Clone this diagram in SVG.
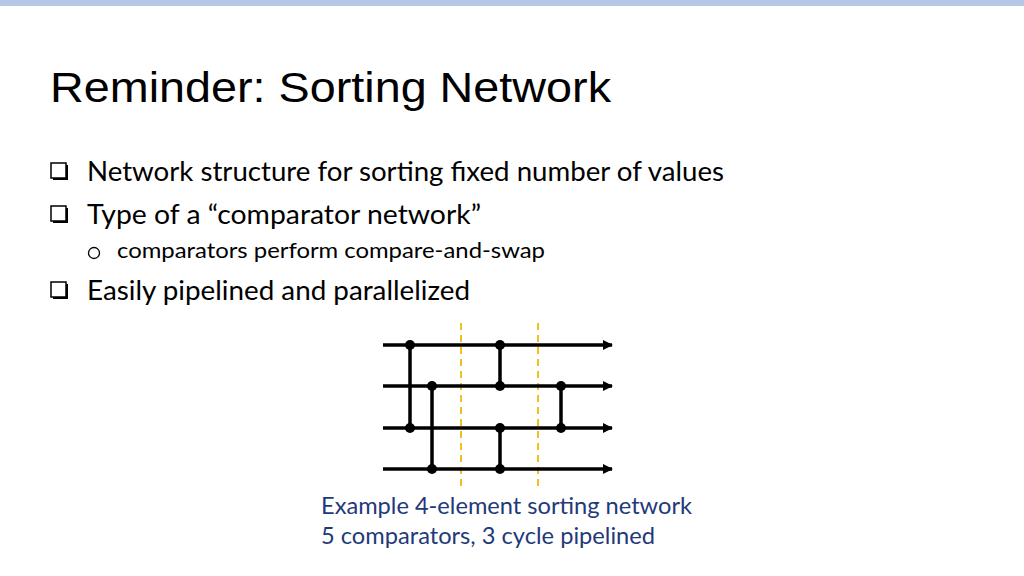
<svg xmlns="http://www.w3.org/2000/svg" width="1024" height="576" viewBox="0 0 1024 576">
<defs>
<style>
.b{font-family:Lato,"Open Sans",sans-serif;font-size:27px;fill:#000}
.s{font-family:Lato,"Open Sans",sans-serif;font-size:21px;fill:#000}
.c{font-family:Lato,"Open Sans",sans-serif;font-size:23px;fill:#1f3a7a}
.w{stroke:#000;stroke-width:3.5;fill:none}
.d{stroke:#f0c020;stroke-width:2;stroke-dasharray:7,5}
</style>
<marker id="a" markerWidth="10" markerHeight="10" refX="9" refY="5" orient="auto" markerUnits="userSpaceOnUse"><path d="M0,0 L10,5 L0,10 z" fill="#000"/></marker>
<g id="cb"><rect x="2" y="2" width="15" height="15" fill="#000"/><rect x="0" y="0" width="15" height="15" fill="#fff" stroke="#000" stroke-width="1.5"/></g>
</defs>
<rect width="1024" height="576" fill="#fff"/>
<rect width="1024" height="6" fill="#b4c7e7"/>
<text x="50" y="102" font-family="Liberation Sans,Arial,sans-serif" font-size="42" fill="#000" textLength="561" lengthAdjust="spacingAndGlyphs">Reminder: Sorting Network</text>
<use href="#cb" x="51" y="163"/>
<text class="b" x="87" y="181" textLength="637" lengthAdjust="spacingAndGlyphs">Network structure for sorting fixed number of values</text>
<use href="#cb" x="51" y="206"/>
<text class="b" x="87" y="224" textLength="394" lengthAdjust="spacingAndGlyphs">Type of a “comparator network”</text>
<circle cx="94" cy="253" r="5.5" fill="none" stroke="#000" stroke-width="1.3"/>
<text class="s" x="117" y="258" textLength="428" lengthAdjust="spacingAndGlyphs">comparators perform compare-and-swap</text>
<use href="#cb" x="51" y="282"/>
<text class="b" x="87" y="300" textLength="383" lengthAdjust="spacingAndGlyphs">Easily pipelined and parallelized</text>
<g id="connectors">
<line class="d" x1="461" y1="323" x2="461" y2="486"/>
<line class="d" x1="538" y1="323" x2="538" y2="486"/>
<line class="w" x1="383" y1="345" x2="612" y2="345" marker-end="url(#a)"/>
<line class="w" x1="383" y1="386" x2="612" y2="386" marker-end="url(#a)"/>
<line class="w" x1="383" y1="428" x2="612" y2="428" marker-end="url(#a)"/>
<line class="w" x1="383" y1="469" x2="612" y2="469" marker-end="url(#a)"/>
<line class="w" x1="410" y1="345" x2="410" y2="428"/>
<line class="w" x1="432" y1="386" x2="432" y2="469"/>
<line class="w" x1="500" y1="345" x2="500" y2="386"/>
<line class="w" x1="500" y1="428" x2="500" y2="469"/>
<line class="w" x1="561" y1="386" x2="561" y2="428"/>
</g>
<g id="nodes" fill="#000">
<circle cx="410" cy="345" r="5"/><circle cx="410" cy="428" r="5"/>
<circle cx="432" cy="386" r="5"/><circle cx="432" cy="469" r="5"/>
<circle cx="500" cy="345" r="5"/><circle cx="500" cy="386" r="5"/>
<circle cx="500" cy="428" r="5"/><circle cx="500" cy="469" r="5"/>
<circle cx="561" cy="386" r="5"/><circle cx="561" cy="428" r="5"/>
</g>
<text class="c" x="321" y="514" textLength="371" lengthAdjust="spacingAndGlyphs">Example 4-element sorting network</text>
<text class="c" x="321" y="544" textLength="334" lengthAdjust="spacingAndGlyphs">5 comparators, 3 cycle pipelined</text>
</svg>
